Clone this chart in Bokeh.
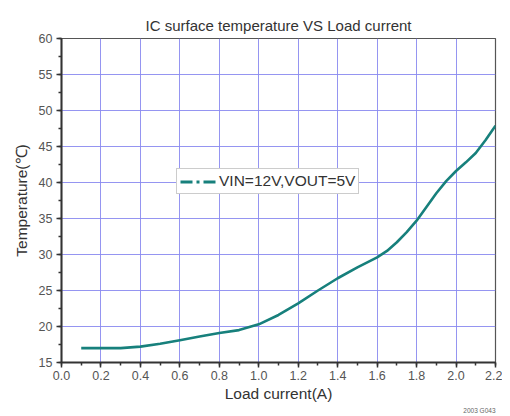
from bokeh.plotting import figure
from bokeh.models import (SingleIntervalTicker, PrintfTickFormatter, Range1d, Legend,
                          LegendItem, ColumnDataSource, Title)
from bokeh.embed import file_html
from bokeh.resources import INLINE

# Data
load_current = [0.1, 0.2, 0.3, 0.4, 0.5, 0.6, 0.7, 0.8, 0.9, 1.0, 1.1, 1.2, 1.3, 1.4,
                1.5, 1.6, 1.65, 1.7, 1.75, 1.8, 1.85, 1.9, 1.95, 2.0, 2.05, 2.1, 2.15, 2.2]
temperature = [17.0, 17.0, 17.0, 17.2, 17.6, 18.1, 18.6, 19.1, 19.5, 20.3, 21.6, 23.2, 25.0, 26.7,
               28.2, 29.6, 30.5, 31.7, 33.1, 34.7, 36.6, 38.5, 40.2, 41.6, 42.8, 44.1, 45.9, 47.9]
series_name = "VIN=12V,VOUT=5V"
title_text = "IC surface temperature VS Load current"
x_label = "Load current(A)"
y_label = "Temperature(℃)"
note_text = "2003 G043"

FONT = "Liberation Sans"
TEAL = "#17807c"
GRID = "#8a8af0"

p = figure(width=502, height=416, output_backend="svg", toolbar_location=None,
           x_range=Range1d(0.0, 2.2), y_range=Range1d(15, 60),
           min_border_left=61, min_border_right=7, min_border_top=38, min_border_bottom=54)

p.title = Title(text=title_text, align="center", text_font=FONT, text_font_size="15px",
                text_font_style="normal", text_color="#333333", offset=0, standoff=10)

p.outline_line_color = "#555555"
p.outline_line_width = 1.2

# axes
p.xaxis.ticker = SingleIntervalTicker(interval=0.2, num_minor_ticks=2)
p.yaxis.ticker = SingleIntervalTicker(interval=5, num_minor_ticks=2)
p.xaxis.formatter = PrintfTickFormatter(format="%.1f")
p.yaxis.formatter = PrintfTickFormatter(format="%d")
for ax in (p.xaxis[0], p.yaxis[0]):
    ax.axis_line_color = "#333333"
    ax.axis_line_width = 2
    ax.major_tick_line_color = "#333333"
    ax.major_tick_line_width = 1.5
    ax.minor_tick_line_color = "#333333"
    ax.minor_tick_line_width = 1.5
    ax.major_tick_out = 5
    ax.major_tick_in = 0
    ax.minor_tick_out = 3
    ax.minor_tick_in = 0
    ax.major_label_text_font = FONT
    ax.major_label_text_font_size = "12.5px"
    ax.major_label_text_color = "#555555"
    ax.axis_label_text_font = FONT
    ax.axis_label_text_font_size = "15.5px"
    ax.axis_label_text_font_style = "normal"
    ax.axis_label_text_color = "#333333"
p.xaxis.axis_label = x_label
p.yaxis.axis_label = y_label
p.xaxis.major_label_standoff = 3
p.yaxis.major_label_standoff = 4
p.xaxis.axis_label_standoff = 2
p.yaxis.axis_label_standoff = 6

# grid
p.grid.grid_line_color = GRID
p.grid.grid_line_width = 1
p.grid.grid_line_alpha = 0.9

src = ColumnDataSource(data=dict(x=load_current, y=temperature))
line = p.line("x", "y", source=src, line_color=TEAL, line_width=2.6)

# legend sample drawn dash-dot, as in the reference (hidden twin of the curve)
dummy = p.line("x", "y", source=src, line_color=TEAL, line_width=3,
               line_dash="12 4 3 4", visible=False)
legend = Legend(items=[LegendItem(label=series_name, renderers=[dummy])],
                location=(115, 168), orientation="horizontal",
                label_text_font=FONT, label_text_font_size="15.5px", label_text_color="#333333",
                border_line_color="#999999", border_line_width=1,
                background_fill_color="white", background_fill_alpha=1,
                inactive_fill_alpha=0,
                padding=3, spacing=0, margin=0, glyph_width=36, glyph_height=15,
                label_standoff=3, label_height=15)
p.add_layout(legend, "center")

note = Title(text=note_text, align="right", text_font=FONT, text_font_size="6.5px",
             text_font_style="normal", text_color="#666666", standoff=0, offset=0,
             text_line_height=0.6)
p.add_layout(note, "below")

open("out.html", "w").write(file_html(p, INLINE))
